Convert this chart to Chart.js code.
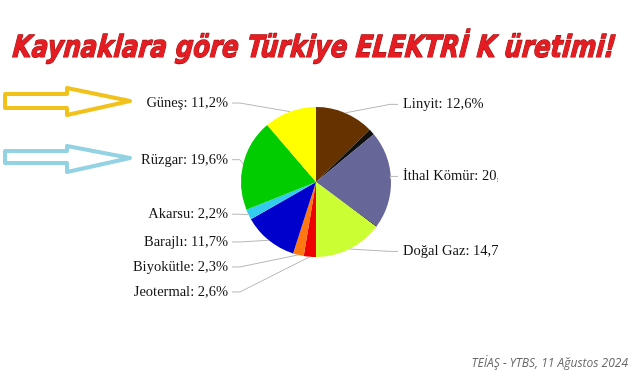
<!DOCTYPE html>
<html>
<head>
<meta charset="utf-8">
<script src="https://cdn.jsdelivr.net/npm/chart.js@4.4.0/dist/chart.umd.min.js"></script>
<style>
  html, body { margin: 0; padding: 0; background: #fff; }
  #wrap { width: 641px; height: 380px; position: relative; }
</style>
</head>
<body>
<div id="wrap"><canvas id="pie-chart" width="641" height="380"></canvas></div>
<script>
// Kaynaklara göre üretim payları (%), saat yönünde, tepeden başlayarak
const sourceNames = [
  "Linyit", "Taş Kömürü", "İthal Kömür", "Asfaltit", "Doğal Gaz",
  "Jeotermal", "Biyokütle", "Barajlı", "Akarsu", "Rüzgar", "Güneş"
];
const sourceShares = [12.6, 1.3, 20.8, 0.2, 14.7, 2.6, 2.3, 11.7, 2.2, 19.6, 11.2];
const sliceColors = [
  "#663300", "#111111", "#666699", "#222222", "#ccff33",
  "#ee0000", "#ff7711", "#0000cc", "#33ccee", "#00cc00", "#ffff00"
];
// sadece bu dilimlerin etiketi görünüyor
const labelled = [true, false, true, false, true, true, true, true, true, true, true];

const titleText = "Kaynaklara göre Türkiye ELEKTRİ K üretimi!";
const sourceText = "TEİAŞ - YTBS, 11 Ağustos 2024";

function fmt(v) {
  return v.toFixed(1).replace(".", ",") + "%";
}

// etiketler ve bağlantı çizgileri
const pieLabels = {
  id: "pieLabels",
  afterDatasetsDraw(chart) {
    const ctx = chart.ctx;
    const meta = chart.getDatasetMeta(0);
    const arc0 = meta.data[0];
    const cx = arc0.x, cy = arc0.y, r = arc0.outerRadius;
    const left = [], right = [];
    meta.data.forEach((arc, i) => {
      if (!labelled[i]) return;
      const mid = (arc.startAngle + arc.endAngle) / 2;
      const item = {
        i: i,
        ex: cx + Math.cos(mid) * r,
        ey: cy + Math.sin(mid) * r,
        y: cy + Math.sin(mid) * (r + 6) - 3
      };
      if (Math.cos(mid) >= 0) right.push(item); else left.push(item);
    });
    [left, right].forEach((side) => {
      side.sort((a, b) => a.y - b.y);
      for (let k = 1; k < side.length; k++) {
        if (side[k].y - side[k - 1].y < 25) side[k].y = side[k - 1].y + 25;
      }
    });

    ctx.save();
    ctx.font = "14.5px 'Liberation Serif', 'DejaVu Serif', serif";
    ctx.textBaseline = "middle";
    ctx.strokeStyle = "#b8b8b8";
    ctx.lineWidth = 1;
    left.forEach((it) => {
      ctx.beginPath();
      ctx.moveTo(232, it.y);
      ctx.lineTo(240, it.y);
      ctx.lineTo(it.ex, it.ey);
      ctx.stroke();
      ctx.fillStyle = "#111";
      ctx.textAlign = "right";
      ctx.fillText(sourceNames[it.i] + ": " + fmt(sourceShares[it.i]), 228, it.y);
    });
    // görüntü sağda kesilmiş
    ctx.save();
    ctx.beginPath();
    ctx.rect(0, 0, 498, 380);
    ctx.clip();
    right.forEach((it) => {
      ctx.beginPath();
      ctx.moveTo(398, it.y);
      ctx.lineTo(390, it.y);
      ctx.lineTo(it.ex, it.ey);
      ctx.stroke();
      ctx.fillStyle = "#111";
      ctx.textAlign = "left";
      ctx.fillText(sourceNames[it.i] + ": " + fmt(sourceShares[it.i]), 403, it.y);
    });
    ctx.restore();
    ctx.restore();
  }
};

// başlık, oklar, kaynak
const decorations = {
  id: "decorations",
  afterDraw(chart) {
    const ctx = chart.ctx;
    ctx.save();
    // başlık
    ctx.font = "italic bold 40px 'DejaVu Sans', sans-serif";
    ctx.textBaseline = "alphabetic";
    const w = ctx.measureText(titleText).width;
    const sx = 603 / w;
    ctx.translate(12, 57);
    ctx.transform(1, 0, -0.1, 1, 0, 0);
    ctx.scale(sx, 0.76);
    ctx.lineJoin = "round";
    ctx.lineWidth = 1 / sx;
    ctx.strokeStyle = "#a01010";
    ctx.strokeText(titleText, 0, 0);
    ctx.fillStyle = "#e51c22";
    ctx.fillText(titleText, 0, 0);
    ctx.restore();

    // oklar
    function arrow(y0, y1, hy0, hy1, ty, color) {
      ctx.save();
      ctx.beginPath();
      ctx.moveTo(5, y0);
      ctx.lineTo(67, y0);
      ctx.lineTo(67, hy0);
      ctx.lineTo(130, ty);
      ctx.lineTo(67, hy1);
      ctx.lineTo(67, y1);
      ctx.lineTo(5, y1);
      ctx.closePath();
      ctx.lineJoin = "round";
      ctx.lineWidth = 4;
      ctx.strokeStyle = color;
      ctx.stroke();
      ctx.restore();
    }
    arrow(94, 108, 88, 115, 101, "#f2c21c");
    arrow(151, 163, 146, 172, 158, "#92d2e2");

    ctx.save();
    ctx.font = "italic 12px 'Open Sans', 'Noto Sans', sans-serif";
    ctx.fillStyle = "#6a6a6a";
    ctx.textAlign = "right";
    ctx.textBaseline = "middle";
    ctx.fillText(sourceText, 628, 364);
    ctx.restore();
  }
};

const ctx1 = document.getElementById("pie-chart").getContext("2d");
new Chart(ctx1, {
  type: "pie",
  data: {
    labels: sourceNames,
    datasets: [
      {
        data: sourceShares,
        backgroundColor: sliceColors,
        borderWidth: 0,
        hoverOffset: 0,
      },
    ],
  },
  options: {
    responsive: false,
    animation: false,
    layout: {
      padding: { top: 107, bottom: 123, left: 241, right: 250 },
    },
    plugins: {
      legend: { display: false },
      tooltip: { enabled: false },
      title: { display: false },
    },
  },
  plugins: [pieLabels, decorations],
});
</script>
</body>
</html>
